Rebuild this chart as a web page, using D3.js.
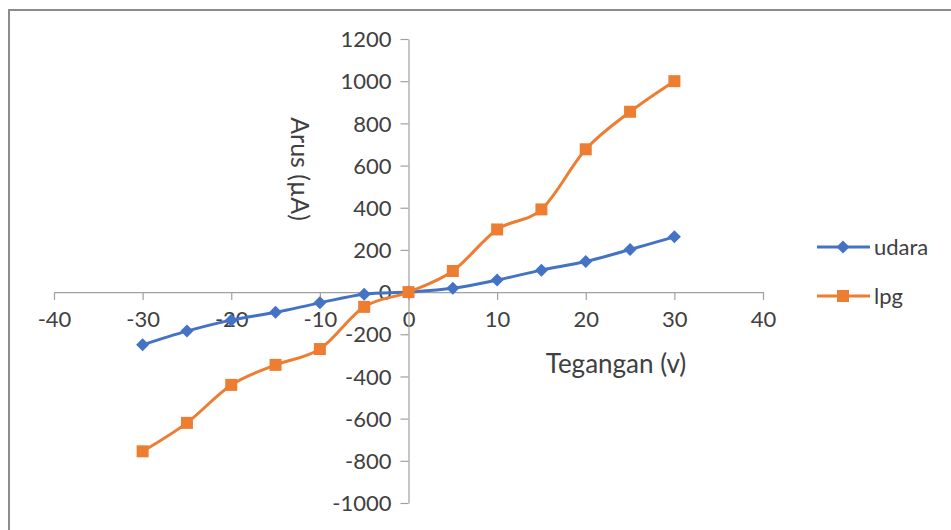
<!DOCTYPE html>
<html>
<head>
<meta charset="utf-8">
<script src="https://cdn.jsdelivr.net/npm/d3@7"></script>
<style>
  html, body { margin: 0; padding: 0; background: #fff; }
  svg { display: block; }
  text { font-family: Lato, "Open Sans", sans-serif; fill: #404040; }
</style>
</head>
<body>
<svg id="chart" width="951" height="530"></svg>
<script>
const voltage = [-30, -25, -20, -15, -10, -5, 0, 5, 10, 15, 20, 25, 30];
const udara = [-250, -185, -133, -96, -51, -10, 0, 18, 57, 104, 145, 202, 262];
const lpg = [-755, -620, -440, -345, -270, -70, 0, 100, 297, 392, 677, 855, 1000];
const xTicks = [-40, -30, -20, -10, 0, 10, 20, 30, 40];
const yTicks = [-1000, -800, -600, -400, -200, 0, 200, 400, 600, 800, 1000, 1200];
const seriesNames = ["udara", "lpg"];
const seriesColors = ["#4472C4", "#ED7D31"];

const svg = d3.select("#chart");

// frame
svg.append("path")
  .attr("d", "M9,531 L9,10 L952,10")
  .attr("fill", "none")
  .attr("stroke", "#8c8c8c")
  .attr("stroke-width", 2);

const x = d3.scaleLinear().domain([-40, 40]).range([54, 763]);
const y = d3.scaleLinear().domain([-1000, 1200]).range([503, 39]);
const fmt = d => String(d);

// x axis
const xAxis = svg.append("g").attr("transform", `translate(0,${y(0)})`)
  .call(d3.axisBottom(x).tickValues(xTicks).tickFormat(fmt).tickSize(8).tickSizeOuter(0).tickPadding(20));
// y axis
const yAxis = svg.append("g").attr("transform", `translate(${x(0)},0)`)
  .call(d3.axisLeft(y).tickValues(yTicks).tickFormat(fmt).tickSize(8).tickSizeOuter(0).tickPadding(17));

[xAxis, yAxis].forEach(a => {
  a.select(".domain").attr("stroke", "#a0a0a0").attr("stroke-width", 1.2);
  a.selectAll(".tick line").attr("stroke", "#a0a0a0").attr("stroke-width", 1.2);
  a.selectAll(".tick text").attr("font-size", 22).attr("fill", "#404040")
    .style("font-family", "Lato, 'Open Sans', sans-serif");
});
xAxis.selectAll(".tick text").attr("dy", "0.71em").attr("y", 19);
yAxis.selectAll(".tick text").attr("dy", "0.35em").attr("x", -17);

// axis titles
svg.append("text")
  .attr("transform", "translate(301,169) rotate(90)")
  .attr("text-anchor", "middle")
  .attr("dominant-baseline", "central")
  .attr("font-size", 25)
  .text("Arus (µA)");
svg.append("text")
  .attr("x", 616).attr("y", 373)
  .attr("text-anchor", "middle")
  .attr("font-size", 26)
  .text("Tegangan (v)");

const line = d3.line()
  .x((d, i) => x(voltage[i]))
  .y(d => y(d))
  .curve(d3.curveCardinal.tension(0));

const diamond = (s) => `M0,${-s} L${s},0 L0,${s} L${-s},0 Z`;
const square = (s) => `M${-s},${-s} L${s},${-s} L${s},${s} L${-s},${s} Z`;

const allSeries = [udara, lpg];
allSeries.forEach((vals, k) => {
  const g = svg.append("g");
  g.append("path")
    .attr("d", line(vals))
    .attr("fill", "none")
    .attr("stroke", seriesColors[k])
    .attr("stroke-width", 3)
    .attr("stroke-linejoin", "round");
  g.selectAll("path.m").data(vals).enter().append("path")
    .attr("class", "m")
    .attr("transform", (d, i) => `translate(${x(voltage[i])},${y(d)})`)
    .attr("d", k === 0 ? diamond(6.5) : square(6))
    .attr("fill", seriesColors[k]);
});

// legend
const legY = [247, 296];
seriesNames.forEach((name, k) => {
  const g = svg.append("g").attr("transform", `translate(0,${legY[k]})`);
  g.append("line").attr("x1", 817).attr("x2", 870).attr("y1", 0).attr("y2", 0)
    .attr("stroke", seriesColors[k]).attr("stroke-width", 3);
  g.append("path").attr("transform", "translate(843,0)")
    .attr("d", k === 0 ? diamond(6.5) : square(6))
    .attr("fill", seriesColors[k]);
  g.append("text").attr("x", 874).attr("y", 0)
    .attr("dy", "0.35em")
    .attr("font-size", 22)
    .text(name);
});
</script>
</body>
</html>
